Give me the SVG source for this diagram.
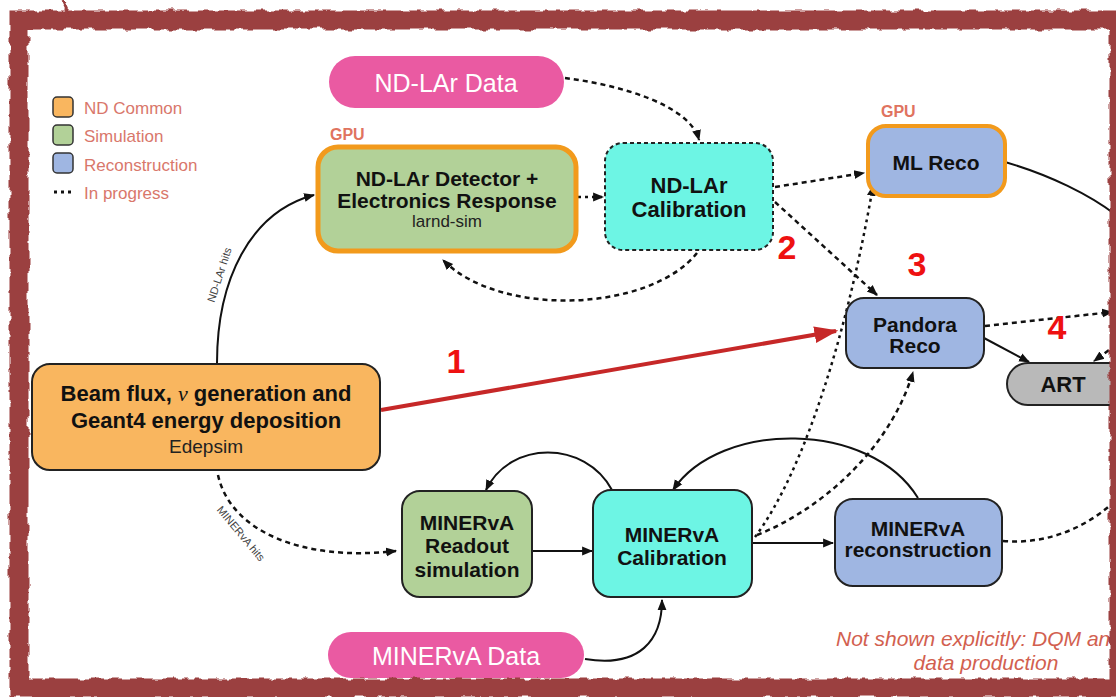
<svg xmlns="http://www.w3.org/2000/svg" width="1116" height="697" viewBox="0 0 1116 697">
<defs>
<style>
.nb{stroke:#222;stroke-width:2}
.t{font-family:"Liberation Sans",Arial,sans-serif;font-weight:bold;font-size:21px;fill:#111;text-anchor:middle}
.sub{font-family:"Liberation Sans",Arial,sans-serif;font-size:18px;fill:#222;text-anchor:middle}
.pk{font-family:"Liberation Sans",Arial,sans-serif;font-size:25px;fill:#fff;text-anchor:middle}
.lg{font-family:"Liberation Sans",Arial,sans-serif;font-size:17px;fill:#d9776b}
.gpu{font-family:"Liberation Sans",Arial,sans-serif;font-weight:bold;font-size:16px;fill:#e0735f}
.num{font-family:"Liberation Sans",Arial,sans-serif;font-weight:bold;font-size:34px;fill:#ee1111;text-anchor:middle}
.hit{font-family:"Liberation Sans",Arial,sans-serif;font-size:11px;fill:#444;text-anchor:middle}
.note{font-family:"Liberation Sans",Arial,sans-serif;font-style:italic;font-size:21px;fill:#d2604f}
.c{fill:none;stroke:#111;stroke-width:2}
.d{fill:none;stroke:#111;stroke-width:2.5;stroke-dasharray:5 4}
.f{fill:none;stroke:#111;stroke-width:2.5;stroke-dasharray:3 4}
</style>
<marker id="ah" viewBox="0 0 10 10" refX="9" refY="5" markerWidth="11" markerHeight="11" markerUnits="userSpaceOnUse" orient="auto"><path d="M0,1 L10,5 L0,9 z" fill="#111"/></marker>
<marker id="rh" viewBox="0 0 10 10" refX="9" refY="5" markerWidth="24" markerHeight="24" markerUnits="userSpaceOnUse" orient="auto"><path d="M0,1.5 L10,5 L0,8.5 z" fill="#c62828"/></marker>
<filter id="rough" filterUnits="userSpaceOnUse" x="0" y="0" width="1116" height="697"><feTurbulence type="fractalNoise" baseFrequency="0.09" numOctaves="2" seed="4"/><feDisplacementMap in="SourceGraphic" scale="7" xChannelSelector="R" yChannelSelector="G"/></filter>
</defs>
<rect width="1116" height="697" fill="#fff"/>

<g id="legend">
<rect x="53" y="97" width="20" height="20" rx="4" fill="#f9b65f" stroke="#333" stroke-width="1.5"/>
<rect x="53" y="125" width="20" height="20" rx="4" fill="#b2d198" stroke="#333" stroke-width="1.5"/>
<rect x="53" y="153" width="20" height="20" rx="4" fill="#9fb6e2" stroke="#333" stroke-width="1.5"/>
<line x1="54" y1="192" x2="73" y2="192" stroke="#111" stroke-width="3" stroke-dasharray="3 4"/>
<text class="lg" x="84" y="114">ND Common</text>
<text class="lg" x="84" y="142">Simulation</text>
<text class="lg" x="84" y="171">Reconstruction</text>
<text class="lg" x="84" y="199">In progress</text>
</g>

<g id="connectors">
<path class="c" d="M217,363 C217,280 250,212 314,195" marker-end="url(#ah)"/>
<text class="hit" transform="translate(223,276) rotate(-72)">ND-LAr hits</text>
<path class="d" d="M218,475 C230,530 300,562 396,551" marker-end="url(#ah)"/>
<text class="hit" transform="translate(238,536) rotate(50)">MINERvA hits</text>
<path class="d" d="M565,78 C620,85 690,105 699,140" marker-end="url(#ah)"/>
<path class="f" d="M578,197 L603,197" marker-end="url(#ah)"/>
<path class="d" d="M697,253 C650,312 500,318 443,260" marker-end="url(#ah)"/>
<path class="d" d="M775,187 L864,173" marker-end="url(#ah)"/>
<path class="d" d="M775,202 L877,295" marker-end="url(#ah)"/>
<path d="M381,410 L836,331" stroke="#c62828" stroke-width="4" fill="none" marker-end="url(#rh)"/>
<path class="c" d="M1005,162 C1050,175 1090,195 1116,215"/>
<path class="d" d="M985,326 L1112,312" marker-end="url(#ah)"/>
<path class="c" d="M984,338 L1029,362" marker-end="url(#ah)"/>
<path class="d" d="M1116,345 L1094,361" marker-end="url(#ah)"/>
<path class="d" d="M1003,541 C1050,545 1090,525 1116,500"/>
<path class="c" d="M533,551 L592,551" marker-end="url(#ah)"/>
<path class="c" d="M753,543 L833,543" marker-end="url(#ah)"/>
<path class="c" d="M612,490 C585,440 510,440 486,490" marker-end="url(#ah)"/>
<path class="c" d="M918,498 C870,420 720,420 673,490" marker-end="url(#ah)"/>
<path class="c" d="M585,659 C640,668 662,640 662,600" marker-end="url(#ah)"/>
<path class="f" d="M755,537 C805,470 848,330 873,186" marker-end="url(#ah)"/>
<path class="d" d="M757,535 C820,510 890,450 913,372" marker-end="url(#ah)"/>
</g>

<g id="ndlar-data">
<rect x="329" y="56" width="235" height="52" rx="26" fill="#ea5aa2"/>
<text class="pk" x="446" y="92">ND-LAr Data</text>
</g>

<g id="ndlar-detector">
<text class="gpu" x="330" y="140">GPU</text>
<rect x="318" y="147" width="258" height="104" rx="20" fill="#b2d198" stroke="#f29a1c" stroke-width="5"/>
<text class="t" x="447" y="186">ND-LAr Detector +</text>
<text class="t" x="447" y="208">Electronics Response</text>
<text class="sub" x="447" y="227" style="font-size:17px">larnd-sim</text>
</g>

<g id="ndlar-calibration">
<rect x="605" y="143" width="168" height="107" rx="18" fill="#6df5e4" stroke="#222" stroke-width="2" stroke-dasharray="4 3"/>
<text class="t" x="689" y="193" style="font-size:22px">ND-LAr</text>
<text class="t" x="689" y="217" style="font-size:22px">Calibration</text>
</g>

<g id="ml-reco">
<text class="gpu" x="881" y="117">GPU</text>
<rect x="868" y="126" width="137" height="70" rx="18" fill="#9fb6e2" stroke="#f29a1c" stroke-width="4"/>
<text class="t" x="936" y="170">ML Reco</text>
</g>

<g id="pandora-reco">
<rect x="846" y="298" width="138" height="70" rx="18" fill="#9fb6e2" class="nb"/>
<text class="t" x="915" y="332">Pandora</text>
<text class="t" x="915" y="353">Reco</text>
</g>

<g id="art">
<rect x="1007" y="363" width="125" height="42" rx="21" fill="#b9b9b9" class="nb"/>
<text class="t" x="1063" y="392" style="font-size:22px">ART</text>
</g>

<g id="beam-flux">
<rect x="32" y="364" width="348" height="106" rx="18" fill="#f9b65f" class="nb"/>
<text class="t" x="206" y="401" style="font-size:22px">Beam flux, <tspan style="font-family:'Liberation Serif',serif;font-style:italic;font-weight:normal">ν</tspan>  generation and</text>
<text class="t" x="206" y="428" style="font-size:22px">Geant4 energy deposition</text>
<text class="sub" x="206" y="453" style="font-size:19px">Edepsim</text>
</g>

<g id="minerva-readout">
<rect x="402" y="491" width="130" height="106" rx="18" fill="#b2d198" class="nb"/>
<text class="t" x="467" y="530">MINERvA</text>
<text class="t" x="467" y="553">Readout</text>
<text class="t" x="467" y="577">simulation</text>
</g>

<g id="minerva-calibration">
<rect x="593" y="490" width="159" height="107" rx="18" fill="#6df5e4" class="nb"/>
<text class="t" x="672" y="542">MINERvA</text>
<text class="t" x="672" y="565">Calibration</text>
</g>

<g id="minerva-reconstruction">
<rect x="835" y="499" width="167" height="87" rx="18" fill="#9fb6e2" class="nb"/>
<text class="t" x="918" y="536">MINERvA</text>
<text class="t" x="918" y="557">reconstruction</text>
</g>

<g id="minerva-data">
<rect x="328" y="632" width="256" height="46" rx="23" fill="#ea5aa2"/>
<text class="pk" x="456" y="665">MINERvA Data</text>
</g>

<g id="labels">
<text class="num" x="456" y="373">1</text>
<text class="num" x="787" y="259">2</text>
<text class="num" x="917" y="276">3</text>
<text class="num" x="1057" y="339">4</text>
<text class="note" x="836" y="646">Not shown explicitly: DQM and</text>
<text class="note" x="986" y="670" text-anchor="middle">data production</text>
</g>

<g id="frame" filter="url(#rough)">
<rect x="19" y="20" width="1100" height="668" fill="none" stroke="#9b3f3f" stroke-width="19"/>
<line x1="62" y1="0" x2="69" y2="16" stroke="#9b3f3f" stroke-width="3"/>
</g>
</svg>
